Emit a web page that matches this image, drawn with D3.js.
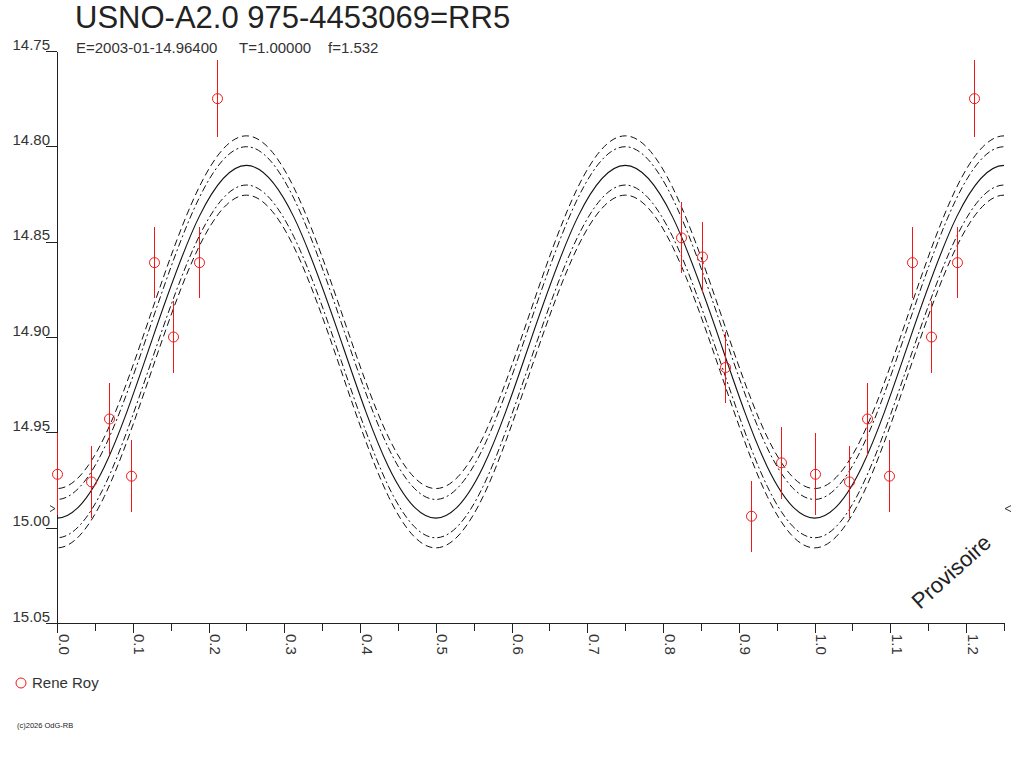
<!DOCTYPE html>
<html>
<head>
<meta charset="utf-8">
<script src="https://cdn.jsdelivr.net/npm/d3@7"></script>
<style>
body { margin:0; background:#fff; }
svg { display:block; font-family:"Liberation Sans", Arial, sans-serif; }
</style>
</head>
<body>
<svg id="drawing_region"></svg>
<script>
// observations folded on the period (phase, magnitude, error)
const obsPhase = [0.000, 0.045, 0.069, 0.098, 0.128, 0.153, 0.188, 0.211, 0.823, 0.851, 0.882, 0.916, 0.956];
const obsMag   = [14.972, 14.976, 14.943, 14.973, 14.861, 14.900, 14.861, 14.775, 14.848, 14.858, 14.916, 14.994, 14.966];
const obsErr   = [0.0215, 0.0188, 0.0190, 0.0188, 0.0186, 0.0188, 0.0185, 0.0201, 0.0186, 0.0185, 0.0187, 0.0185, 0.0188];

// fitted light curve, read at knots
const fitPhase = [-0.125, -0.0625, 0, 0.0625, 0.125, 0.1875, 0.25, 0.3125, 0.375, 0.4375, 0.5, 0.5625, 0.625,
                  0.6875, 0.75, 0.8125, 0.875, 0.9375, 1.0, 1.0625, 1.125, 1.1875, 1.25, 1.3125, 1.375];
const fitMag   = [14.902, 14.968, 14.995, 14.968, 14.902, 14.837, 14.810, 14.837, 14.902, 14.968, 14.995, 14.968, 14.902,
                  14.837, 14.810, 14.837, 14.902, 14.968, 14.995, 14.968, 14.902, 14.837, 14.810, 14.837, 14.902];
// uncertainty envelopes (mag offset from fit)
const bandOffset = [-0.0155, -0.0098, 0.0103, 0.0156];
const markMag = 14.990;

const yTicks = [14.75, 14.80, 14.85, 14.90, 14.95, 15.00, 15.05];
const xTicks = [0.0, 0.1, 0.2, 0.3, 0.4, 0.5, 0.6, 0.7, 0.8, 0.9, 1.0, 1.1, 1.2];
const xMinor = [0.05, 0.15, 0.25, 0.35, 0.45, 0.55, 0.65, 0.75, 0.85, 0.95, 1.05, 1.15, 1.25];

const titleText = 'USNO-A2.0 975-4453069=RR5';
const infoText = ['E=2003-01-14.96400', 'T=1.00000', 'f=1.532'];
const observer = 'Rene Roy';

class LightCurve {
    constructor( config ) {
        this.config = config;
        this.init();
    }

    init() {
        let self = this;
        self.svg = d3.select( self.config.parent )
            .attr('width', self.config.width)
            .attr('height', self.config.height);

        self.x = d3.scaleLinear().domain([0, 1.25]).range([57, 1004]);
        self.y = d3.scaleLinear().domain([14.75, 15.05]).range([51, 623]);

        self.svg.append('defs').append('clipPath').attr('id', 'plotclip')
            .append('rect')
            .attr('x', 57).attr('y', 51)
            .attr('width', 947).attr('height', 572);
    }

    render() {
        let self = this;
        const x = self.x, y = self.y;
        const font = '"Liberation Sans", Arial, sans-serif';

        // title
        self.svg.append('text')
            .attr('x', 75).attr('y', 28)
            .style('font-size', '31px').attr('fill', '#222')
            .text(titleText);
        const infoX = [76, 239, 328];
        self.svg.selectAll('.info').data(infoText).enter()
            .append('text')
            .attr('x', (d, i) => infoX[i]).attr('y', 53)
            .style('font-size', '15px').attr('fill', '#333')
            .text(d => d);

        // axes
        const yAxis = d3.axisLeft(y).tickValues(yTicks).tickSize(11).tickSizeOuter(0)
            .tickFormat(d3.format('.2f'));
        const gy = self.svg.append('g').attr('transform', 'translate(57,0)').call(yAxis);
        gy.selectAll('text').attr('x', -7).attr('dy', -2)
            .style('font-size', '15px').attr('fill', '#333')
            .style('font-family', font);

        const xMinorAxis = d3.axisBottom(x).tickValues(xMinor).tickSize(8).tickFormat('');
        const gxm = self.svg.append('g').attr('transform', 'translate(0,623)').call(xMinorAxis);
        gxm.select('.domain').remove();

        const xAxis = d3.axisBottom(x).tickValues(xTicks).tickSize(10).tickSizeOuter(0)
            .tickFormat(d3.format('.1f'));
        const gx = self.svg.append('g').attr('transform', 'translate(0,623)').call(xAxis);
        gx.selectAll('text')
            .attr('x', 0).attr('y', 0).attr('dy', 0)
            .attr('transform', 'translate(1,11) rotate(90)')
            .attr('text-anchor', 'start')
            .style('font-size', '15px').attr('fill', '#333')
            .style('font-family', font);

        self.svg.selectAll('.domain, .tick line')
            .attr('stroke', '#222').attr('shape-rendering', 'crispEdges');

        // fitted curve and envelopes
        const knots = fitPhase.map((p, i) => ({ p: p, m: fitMag[i] }));
        const line = off => d3.line()
            .x(d => x(d.p)).y(d => y(d.m + off))
            .curve(d3.curveNatural)(knots);

        const curves = self.svg.append('g').attr('clip-path', 'url(#plotclip)');
        const dash = ['7,4', '7,3,2,3', '7,3,2,3', '7,4'];
        curves.selectAll('.band').data(bandOffset).enter()
            .append('path')
            .attr('d', d => line(d))
            .attr('fill', 'none').attr('stroke', '#111').attr('stroke-width', 1)
            .attr('stroke-dasharray', (d, i) => dash[i]);
        curves.append('path')
            .attr('d', line(0))
            .attr('fill', 'none').attr('stroke', '#111').attr('stroke-width', 1.1);

        // mean markers
        const ym = y(markMag);
        self.svg.append('path')
            .attr('d', `M${x(0) - 7},${ym - 3}L${x(0) - 2},${ym}L${x(0) - 7},${ym + 3}`)
            .attr('fill', 'none').attr('stroke', '#333');
        self.svg.append('path')
            .attr('d', `M${x(1.25) + 7},${ym - 3}L${x(1.25) + 1},${ym}L${x(1.25) + 7},${ym + 3}`)
            .attr('fill', 'none').attr('stroke', '#333');

        // observations, with the start of the cycle repeated after phase 1
        let obs = obsPhase.map((p, i) => ({ p: p, m: obsMag[i], e: obsErr[i] }));
        obs = obs.concat(obs.filter(d => d.p + 1 <= 1.25).map(d => ({ p: d.p + 1, m: d.m, e: d.e })));

        const pts = self.svg.append('g');
        pts.selectAll('.bar').data(obs).enter()
            .append('line')
            .attr('x1', d => Math.round(x(d.p)) + 0.5).attr('x2', d => Math.round(x(d.p)) + 0.5)
            .attr('y1', d => y(d.m - d.e)).attr('y2', d => y(d.m + d.e))
            .attr('stroke', '#f01818').attr('shape-rendering', 'crispEdges');
        pts.selectAll('.pt').data(obs).enter()
            .append('circle')
            .attr('cx', d => Math.round(x(d.p)) + 0.5).attr('cy', d => y(d.m))
            .attr('r', 5)
            .attr('fill', 'none').attr('stroke', '#f01818');

        // legend
        self.svg.append('circle')
            .attr('cx', 21).attr('cy', 683).attr('r', 5)
            .attr('fill', 'none').attr('stroke', '#f01818');
        self.svg.append('text')
            .attr('x', 32).attr('y', 688)
            .style('font-size', '15px').attr('fill', '#333')
            .text(observer);

        self.svg.append('text')
            .attr('x', 17).attr('y', 728)
            .style('font-size', '7.5px').attr('fill', '#222')
            .text('(c)2026 OdG-RB');

        self.svg.append('text')
            .attr('transform', 'translate(920,610) rotate(-42)')
            .style('font-size', '22px').attr('fill', '#222')
            .text('Provisoire');
    }
}

const chart = new LightCurve({ parent: '#drawing_region', width: 1024, height: 768 });
chart.render();
</script>
</body>
</html>
